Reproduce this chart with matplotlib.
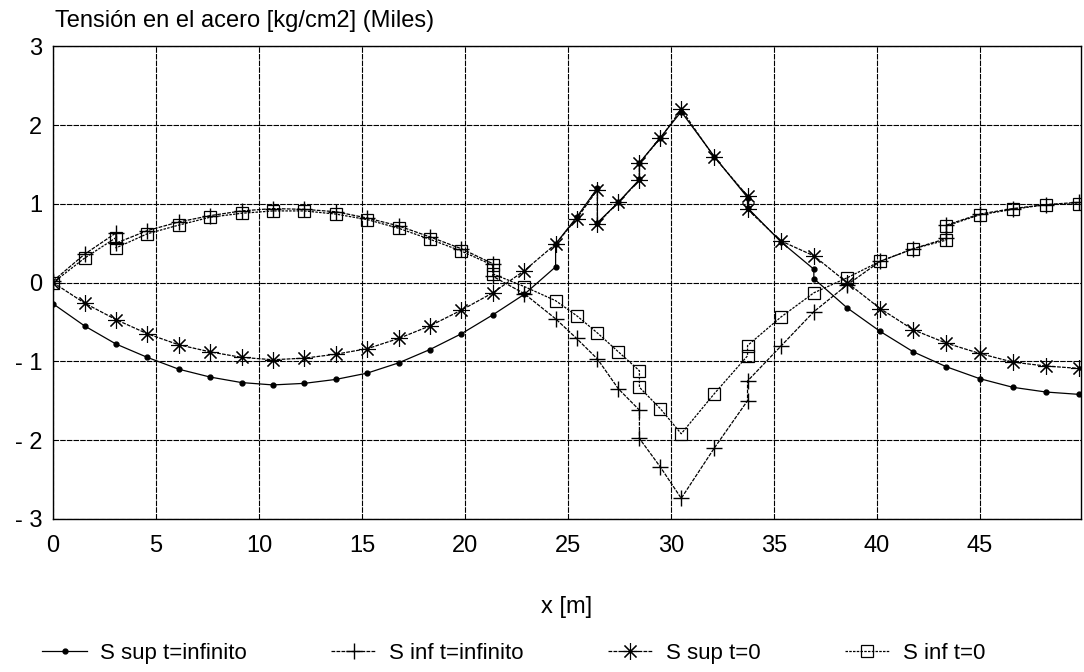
import numpy as np
import matplotlib.pyplot as plt

# x positions (m) along the beam, jumps repeated
x_sup_inf = [0, 1.525, 3.05, 4.575, 6.1, 7.625, 9.15, 10.675, 12.2, 13.725, 15.25, 16.775,
             18.3, 19.825, 21.35, 22.875, 24.4, 24.4, 25.42, 26.43, 26.43, 27.45, 28.47, 28.47,
             29.48, 30.5, 32.11, 33.72, 33.72, 35.33, 36.94, 36.94, 38.55, 40.16, 41.77, 43.38,
             44.99, 46.6, 48.21, 49.82]
s_sup_tinf = [-0.27, -0.55, -0.78, -0.95, -1.10, -1.20, -1.27, -1.30, -1.28, -1.23, -1.15, -1.02,
              -0.85, -0.65, -0.41, -0.15, 0.20, 0.49, 0.83, 1.20, 0.76, 1.02, 1.31, 1.52,
              1.84, 2.17, 1.60, 1.08, 0.95, 0.52, 0.17, 0.05, -0.32, -0.62, -0.88, -1.07,
              -1.22, -1.33, -1.39, -1.42]

x_sup_0 = [0, 1.525, 3.05, 4.575, 6.1, 7.625, 9.15, 10.675, 12.2, 13.725, 15.25, 16.775,
           18.3, 19.825, 21.35, 22.875, 24.4, 25.42, 26.43, 26.43, 27.45, 28.47, 28.47,
           29.48, 30.5, 32.11, 33.72, 33.72, 35.33, 36.94, 38.55, 40.16, 41.77, 43.38,
           44.99, 46.6, 48.21, 49.82]
s_sup_t0 = [0.0, -0.26, -0.47, -0.65, -0.79, -0.88, -0.95, -0.98, -0.96, -0.91, -0.84, -0.71,
            -0.55, -0.35, -0.13, 0.15, 0.49, 0.81, 1.18, 0.75, 1.02, 1.30, 1.52,
            1.83, 2.20, 1.59, 1.10, 0.93, 0.53, 0.34, 0.0, -0.33, -0.60, -0.77,
            -0.90, -1.01, -1.06, -1.09]

x_inf = [0, 1.525, 3.05, 3.05, 4.575, 6.1, 7.625, 9.15, 10.675, 12.2, 13.725, 15.25, 16.775,
         18.3, 19.825, 21.35, 21.35, 22.875, 24.4, 25.42, 26.43, 27.45, 28.47, 28.47,
         29.48, 30.5, 32.11, 33.72, 33.72, 35.33, 36.94, 38.55, 40.16, 41.77, 43.38, 43.38,
         44.99, 46.6, 48.21, 49.82]
s_inf_tinf = [0.02, 0.36, 0.63, 0.50, 0.66, 0.77, 0.85, 0.91, 0.94, 0.93, 0.90, 0.82, 0.72,
              0.58, 0.43, 0.24, 0.08, -0.14, -0.46, -0.71, -0.97, -1.35, -1.62, -1.98,
              -2.34, -2.74, -2.10, -1.50, -1.25, -0.81, -0.37, -0.03, 0.27, 0.43, 0.56, 0.73,
              0.87, 0.94, 0.99, 1.02]
s_inf_t0 = [0.0, 0.31, 0.57, 0.44, 0.62, 0.73, 0.83, 0.88, 0.91, 0.91, 0.87, 0.80, 0.69,
            0.55, 0.40, 0.22, 0.11, -0.05, -0.23, -0.42, -0.64, -0.88, -1.12, -1.33,
            -1.60, -1.92, -1.41, -0.93, -0.80, -0.44, -0.13, 0.06, 0.27, 0.43, 0.54, 0.72,
            0.86, 0.93, 0.99, 1.00]

xticks = [0, 5, 10, 15, 20, 25, 30, 35, 40, 45]
yticks = [-3, -2, -1, 0, 1, 2, 3]
ylabels = ['- 3', '- 2', '- 1', '0', '1', '2', '3']

plt.rcParams['font.family'] = ['Liberation Sans', 'DejaVu Sans']

fig = plt.figure(figsize=(10.84, 6.72), dpi=100)
ax = fig.add_axes([0.049, 0.228, 0.948, 0.703])

ax.plot(x_sup_inf, s_sup_tinf, color='black', lw=0.9, marker='o', ms=3.5,
        label='S sup t=infinito')
ax.plot(x_inf, s_inf_tinf, color='black', lw=0.9, ls=(0, (3, 1)), marker='+', ms=11,
        mew=1.0, label='S inf t=infinito')
ax.plot(x_sup_0, s_sup_t0, color='black', lw=0.9, ls=(0, (3, 1)), marker=(8, 2, 0), ms=12,
        mew=0.8, label='S sup t=0')
ax.plot(x_inf, s_inf_t0, color='black', lw=0.9, ls=(0, (2, 1)), marker='s', ms=8,
        mfc='none', mew=0.9, label='S inf t=0')

ax.set_xlim(0, 49.9)
ax.set_ylim(-3, 3)
ax.set_xticks(xticks)
ax.set_yticks(yticks)
ax.set_yticklabels(ylabels)
ax.tick_params(length=0, labelsize=17)
ax.tick_params(axis='x', pad=12)
ax.tick_params(axis='y', pad=8)
ax.grid(True, color='black', lw=0.8, ls=(0, (5, 1)))
for s in ax.spines.values():
    s.set_linewidth(1.0)

ax.set_xlabel('x [m]', fontsize=17, labelpad=28)
fig.text(55 / 1084, 1 - 27 / 672, 'Tensión en el acero [kg/cm2] (Miles)', fontsize=17,
         va='baseline', ha='left')

fig.legend(loc='lower center', bbox_to_anchor=(0.474, -0.018), ncol=4, frameon=False,
           fontsize=16, handlelength=2.0, handletextpad=0.6, columnspacing=3.8)

fig.savefig('out.png', dpi=100)
